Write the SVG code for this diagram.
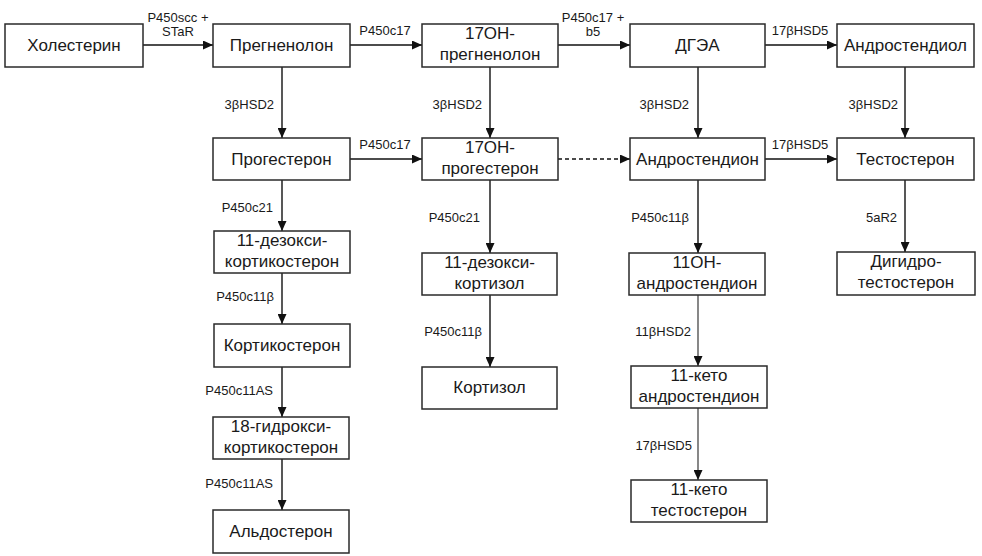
<svg xmlns="http://www.w3.org/2000/svg" width="982" height="556" viewBox="0 0 982 556">
<defs>
<marker id="arr" markerUnits="userSpaceOnUse" markerWidth="10" markerHeight="9" refX="10" refY="4.5" orient="auto">
<path d="M0,0 L10,4.5 L0,9 z" fill="#111"/>
</marker>
<style>
.box{fill:#fff;stroke:#2a2a2a;stroke-width:1.5}
.t{font-family:"Liberation Sans",Arial,sans-serif;font-size:17px;fill:#1a1a1a;text-anchor:middle}
.l{font-family:"Liberation Sans",Arial,sans-serif;font-size:13px;fill:#1a1a1a}
.m{text-anchor:middle}
.e{text-anchor:end}
.c line{stroke:#111;stroke-width:1.4;marker-end:url(#arr)}
</style>
</defs>
<rect width="982" height="556" fill="#fff"/>

<g id="connectors" class="c">
<line x1="143" y1="45" x2="213" y2="45"/>
<line x1="350" y1="45" x2="422" y2="45"/>
<line x1="558" y1="45" x2="630" y2="45"/>
<line x1="765" y1="45" x2="837" y2="45"/>
<line x1="282" y1="67" x2="282" y2="138"/>
<line x1="490" y1="67" x2="490" y2="138"/>
<line x1="698" y1="67" x2="698" y2="138"/>
<line x1="905" y1="67" x2="905" y2="138"/>
<line x1="350" y1="159" x2="422" y2="159"/>
<line x1="558" y1="159" x2="630" y2="159" stroke-dasharray="4,3"/>
<line x1="765" y1="159" x2="837" y2="159"/>
<line x1="282" y1="180" x2="282" y2="231"/>
<line x1="282" y1="273" x2="282" y2="324"/>
<line x1="282" y1="367" x2="282" y2="417"/>
<line x1="282" y1="459" x2="282" y2="510"/>
<line x1="490" y1="180" x2="490" y2="253"/>
<line x1="490" y1="295" x2="490" y2="367"/>
<line x1="698" y1="180" x2="698" y2="253"/>
<line x1="698" y1="295" x2="698" y2="366" style="stroke:#555"/>
<line x1="698" y1="408" x2="698" y2="480" style="stroke:#555"/>
<line x1="905" y1="180" x2="905" y2="252"/>
<text class="l m" x="178" y="21.5">P450scc +</text>
<text class="l m" x="178" y="35.5">STaR</text>
<text class="l m" x="385" y="35">P450c17</text>
<text class="l m" x="593" y="21.5">P450c17 +</text>
<text class="l m" x="593" y="35.5">b5</text>
<text class="l m" x="800" y="35">17βHSD5</text>
<text class="l e" x="274" y="109">3βHSD2</text>
<text class="l e" x="482" y="109">3βHSD2</text>
<text class="l e" x="689" y="109">3βHSD2</text>
<text class="l e" x="898" y="109">3βHSD2</text>
<text class="l m" x="385" y="149">P450c17</text>
<text class="l m" x="800" y="149">17βHSD5</text>
<text class="l e" x="273" y="212">P450c21</text>
<text class="l e" x="274" y="301">P450c11β</text>
<text class="l e" x="273" y="395">P450c11AS</text>
<text class="l e" x="273" y="488">P450c11AS</text>
<text class="l e" x="480" y="222">P450c21</text>
<text class="l e" x="482" y="336">P450c11β</text>
<text class="l e" x="689" y="222">P450c11β</text>
<text class="l e" x="691" y="336">11βHSD2</text>
<text class="l e" x="692" y="450">17βHSD5</text>
<text class="l e" x="897" y="222">5aR2</text>
</g>

<g id="n_cholesterol"><rect class="box" x="5" y="24" width="138" height="43"/><text class="t" x="74" y="51">Холестерин</text></g>
<g id="n_pregnenolone"><rect class="box" x="213" y="24" width="137" height="43"/><text class="t" x="281.5" y="51">Прегненолон</text></g>
<g id="n_17oh_preg"><rect class="box" x="422" y="24" width="136" height="43"/><text class="t" x="490" y="39">17OH-</text><text class="t" x="490" y="60">прегненолон</text></g>
<g id="n_dhea"><rect class="box" x="630" y="24" width="135" height="43"/><text class="t" x="697.5" y="51">ДГЭА</text></g>
<g id="n_androstenediol"><rect class="box" x="837" y="24" width="137" height="43"/><text class="t" x="905.5" y="51">Андростендиол</text></g>

<g id="n_progesterone"><rect class="box" x="213" y="138" width="137" height="42"/><text class="t" x="281.5" y="165">Прогестерон</text></g>
<g id="n_17oh_prog"><rect class="box" x="422" y="138" width="136" height="42"/><text class="t" x="490" y="153">17OH-</text><text class="t" x="490" y="174">прогестерон</text></g>
<g id="n_androstenedione"><rect class="box" x="630" y="138" width="135" height="42"/><text class="t" x="697.5" y="165">Андростендион</text></g>
<g id="n_testosterone"><rect class="box" x="837" y="138" width="137" height="42"/><text class="t" x="905.5" y="165">Тестостерон</text></g>

<g id="n_doc"><rect class="box" x="214" y="231" width="136" height="42"/><text class="t" x="282" y="246">11-дезокси-</text><text class="t" x="282" y="267">кортикостерон</text></g>
<g id="n_corticosterone"><rect class="box" x="214" y="324" width="136" height="43"/><text class="t" x="282" y="351">Кортикостерон</text></g>
<g id="n_18oh"><rect class="box" x="213" y="417" width="136" height="42"/><text class="t" x="281" y="432">18-гидрокси-</text><text class="t" x="281" y="453">кортикостерон</text></g>
<g id="n_aldosterone"><rect class="box" x="213" y="510" width="136" height="43"/><text class="t" x="281" y="537">Альдостерон</text></g>

<g id="n_11deoxycortisol"><rect class="box" x="422" y="253" width="135" height="42"/><text class="t" x="489.5" y="268">11-дезокси-</text><text class="t" x="489.5" y="289">кортизол</text></g>
<g id="n_cortisol"><rect class="box" x="422" y="367" width="135" height="42"/><text class="t" x="489.5" y="393">Кортизол</text></g>

<g id="n_11oh_a4"><rect class="box" x="629" y="253" width="136" height="42"/><text class="t" x="697" y="268">11OH-</text><text class="t" x="697" y="289">андростендион</text></g>
<g id="n_11keto_a4"><rect class="box" x="631" y="366" width="136" height="42"/><text class="t" x="699" y="381">11-кето</text><text class="t" x="699" y="402">андростендион</text></g>
<g id="n_11keto_t"><rect class="box" x="631" y="480" width="136" height="42"/><text class="t" x="699" y="495">11-кето</text><text class="t" x="699" y="516">тестостерон</text></g>

<g id="n_dht"><rect class="box" x="837" y="252" width="138" height="43"/><text class="t" x="906" y="267">Дигидро-</text><text class="t" x="906" y="288">тестостерон</text></g>
</svg>
